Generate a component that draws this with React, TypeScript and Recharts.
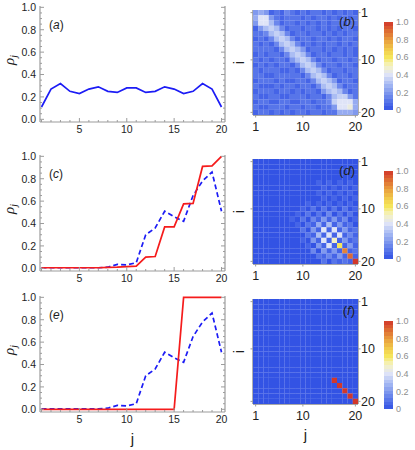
import React from "react";
import { LineChart, Line, XAxis, YAxis, ScatterChart, Scatter, BarChart, Bar } from "recharts";

// site index j
const sites = [1, 2, 3, 4, 5, 6, 7, 8, 9, 10, 11, 12, 13, 14, 15, 16, 17, 18, 19, 20];

// densities
const rhoA = [0.11, 0.27, 0.32, 0.25, 0.23, 0.27, 0.29, 0.25, 0.24, 0.28, 0.28, 0.24, 0.25, 0.29, 0.27, 0.23, 0.25, 0.32, 0.27, 0.11];
const rhoCRed = [0.005, 0.005, 0.005, 0.005, 0.005, 0.005, 0.005, 0.008, 0.01, 0.015, 0.02, 0.1, 0.105, 0.37, 0.37, 0.575, 0.58, 0.91, 0.915, 1.0];
const rhoBlueDashed = [0.005, 0.005, 0.005, 0.005, 0.005, 0.005, 0.005, 0.01, 0.035, 0.03, 0.05, 0.3, 0.36, 0.51, 0.46, 0.42, 0.65, 0.78, 0.86, 0.51];
const rhoERed = [0, 0, 0, 0, 0, 0, 0, 0, 0, 0, 0, 0, 0, 0, 0, 1, 1, 1, 1, 1];

const lineXTicks = [1, 2, 3, 4, 5, 6, 7, 8, 9, 10, 11, 12, 13, 14, 15, 16, 17, 18, 19, 20];
const lineXMajor = [5, 10, 15, 20];
const lineYTicks = [0, 0.05, 0.1, 0.15, 0.2, 0.25, 0.3, 0.35, 0.4, 0.45, 0.5, 0.55, 0.6, 0.65, 0.7, 0.75, 0.8, 0.85, 0.9, 0.95, 1];
const lineYMajor = [0, 0.2, 0.4, 0.6, 0.8, 1];

const heatTicks = [1, 10, 20];
const colorbarTicks = [0, 0.2, 0.4, 0.6, 0.8, 1];

// correlation matrices, one char per cell: index in LEVELS / 20
const LEVELS = "0123456789abcdefghijk";
const corrB = [
  "45412132121221212121",
  "58842122212122121212",
  "48863122121212122122",
  "14676312212212121221",
  "22367631221221212122",
  "12136763122122121221",
  "21213676312121221212",
  "22221367641221212121",
  "12122136763122122121",
  "21212214676312212212",
  "12121221367631221221",
  "21222112136763122122",
  "22112222213676312212",
  "12221211221367641221",
  "21112122122136763122",
  "12221221212214676312",
  "21122112221221367742",
  "12211221122122378885",
  "21122212212212248895",
  "12212121221221225554",
];
const corrD = [
  "00000000000000000000",
  "00000000000000000000",
  "00000000000000000000",
  "00000000000000000000",
  "00000000000010101010",
  "00000000000001010101",
  "00000000000010101010",
  "00000000000001010101",
  "00000000001010101010",
  "00000000010202020201",
  "00000000102020302020",
  "00000001020314141301",
  "00000000102151614120",
  "00000000020418181412",
  "00000000002161818131",
  "000000000104181a1412",
  "0000000000104181c141",
  "00000000000304141h12",
  "000000000000213141i1",
  "0000000000000202121k",
];
const corrF = [
  "00000000000000000000",
  "00000000000000000000",
  "00000000000000000000",
  "00000000000000000000",
  "00000000000000000000",
  "00000000000000000000",
  "00000000000000000000",
  "00000000000000000000",
  "00000000000000000000",
  "00000000000000000000",
  "00000000000000000000",
  "00000000000000000000",
  "00000000000000000000",
  "00000000000000000000",
  "00000000000000000000",
  "000000000000000k0000",
  "0000000000000000k000",
  "00000000000000000k00",
  "000000000000000000k0",
  "0000000000000000000k",
];

const SANS = "'Liberation Sans', Arial, sans-serif";
const FRAME = "#9c9c9c";
const X_DOMAIN: [number, number] = [0.84, 20.37];
const Y_DOMAIN: [number, number] = [-0.024, 1.012];
const HEAT_PLOT = 105;
const HEAT_CELL = HEAT_PLOT / 20;

const HEAT_STOPS: [number, string][] = [
  [0, "#3353e4"],
  [0.1, "#5775e9"],
  [0.2, "#8099ee"],
  [0.3, "#abbdf3"],
  [0.4, "#dfe4f7"],
  [0.5, "#f5f2c4"],
  [0.6, "#f5e65c"],
  [0.7, "#f0c648"],
  [0.8, "#e89a3c"],
  [0.9, "#dd6a32"],
  [1, "#d1382a"],
];

function hexRgb(h: string) {
  return [1, 3, 5].map((i) => parseInt(h.slice(i, i + 2), 16));
}

function heatColor(v: number) {
  const t = Math.max(0, Math.min(1, v));
  for (let k = 1; k < HEAT_STOPS.length; k++) {
    const [p1, c1] = HEAT_STOPS[k];
    if (t <= p1) {
      const [p0, c0] = HEAT_STOPS[k - 1];
      const f = (t - p0) / (p1 - p0);
      const a = hexRgb(c0);
      const b = hexRgb(c1);
      const m = a.map((x, i) => Math.round(x + (b[i] - x) * f));
      return `rgb(${m[0]},${m[1]},${m[2]})`;
    }
  }
  return HEAT_STOPS[HEAT_STOPS.length - 1][1];
}

function toCells(rows: string[]) {
  const out: { row: number; col: number; v: number }[] = [];
  rows.forEach((r, i) => {
    for (let c = 0; c < r.length; c++) out.push({ row: i + 1, col: c + 1, v: LEVELS.indexOf(r[c]) / 20 });
  });
  return out;
}

const near = (v: number, list: number[]) => list.some((m) => Math.abs(m - v) < 1e-6);

type Side = "bottom" | "top" | "left" | "right";
type TickOpts = {
  side: Side;
  major: number[];
  inward: boolean;
  majorLen: number;
  minorLen: number;
  label: boolean;
  fmt?: (v: number) => string;
  fontSize?: number;
  gap?: number;
};

function makeTick(o: TickOpts) {
  return (p: any) => {
    const x = p.x as number;
    const y = p.y as number;
    const v = p.payload.value as number;
    const isMajor = near(v, o.major);
    const len = isMajor ? o.majorLen : o.minorLen;
    const s = o.inward ? 1 : -1;
    let x2 = x;
    let y2 = y;
    if (o.side === "bottom") y2 = y - s * len;
    if (o.side === "top") y2 = y + s * len;
    if (o.side === "left") x2 = x + s * len;
    if (o.side === "right") x2 = x - s * len;
    let txt = null;
    if (o.label && isMajor) {
      const fs = o.fontSize || 10;
      const gap = o.gap || 4;
      const str = o.fmt ? o.fmt(v) : String(v);
      const st = { fontSize: fs, fill: "#1e1e1e", fontFamily: SANS };
      if (o.side === "bottom")
        txt = <text x={x} y={y + gap} textAnchor="middle" {...st}>{str}</text>;
      if (o.side === "left")
        txt = <text x={x - gap} y={y + fs * 0.36} textAnchor="end" {...st}>{str}</text>;
      if (o.side === "right")
        txt = <text x={x + gap} y={y + fs * 0.36} textAnchor="start" {...st}>{str}</text>;
    }
    return (
      <g>
        <line x1={x} y1={y} x2={x2} y2={y2} stroke={FRAME} strokeWidth={1} />
        {txt}
      </g>
    );
  };
}

function tagText(x: number, y: number, letter: string, anchor: "start" | "end", fs: number) {
  return (
    <text x={x} y={y} textAnchor={anchor} fontFamily={SANS} fontSize={fs} fill="#1e1e1e">
      (<tspan fontStyle="italic">{letter}</tspan>)
    </text>
  );
}

// left axis label: rotated rho_j plus the panel tag inside the plot
const rhoLabel = (tag: string) => (p: any) => {
  const vb = p.viewBox;
  const x = vb.x + 14;
  const y = vb.y + vb.height / 2 - 4;
  return (
    <g>
      <text x={x} y={y} transform={`rotate(-90 ${x} ${y})`} textAnchor="middle" fontFamily="'Liberation Serif', serif" fontStyle="italic" fontSize={15} fill="#1e1e1e">
        ρ<tspan dy={3} fontSize={10}>j</tspan>
      </text>
      {tagText(vb.x + vb.width + 9, vb.y + 22.5, tag, "start", 12)}
    </g>
  );
};

type Series = { key: string; color: string; dash?: string };

function RhoPanel({ top, tag, data, series, showJ }: { top: number; tag: string; data: any[]; series: Series[]; showJ?: boolean }) {
  const bottomH = showJ ? 40 : 20;
  const h = 6 + 116 + bottomH;
  const axisLine = { stroke: FRAME, strokeWidth: 1.2 };
  return (
    <div style={{ position: "absolute", left: 0, top }}>
      <LineChart width={240} height={h} data={data} margin={{ top: 6, right: 0, bottom: 0, left: 0 }}>
        <XAxis
          xAxisId="b"
          type="number"
          dataKey="j"
          domain={X_DOMAIN}
          allowDataOverflow
          ticks={lineXTicks}
          interval={0}
          tickSize={0}
          tickMargin={0}
          tickLine={false}
          height={bottomH}
          axisLine={axisLine}
          tick={makeTick({ side: "bottom", major: lineXMajor, inward: true, majorLen: 4, minorLen: 2, label: true, fontSize: 10.5, gap: 11 })}
          label={showJ ? { value: "j", position: "insideBottom", offset: 8, style: { fontFamily: SANS, fontSize: 15, fill: "#1e1e1e" } } : undefined}
        />
        <XAxis
          xAxisId="t"
          orientation="top"
          type="number"
          domain={X_DOMAIN}
          allowDataOverflow
          ticks={lineXTicks}
          interval={0}
          tickSize={0}
          tickMargin={0}
          tickLine={false}
          height={0}
          axisLine={axisLine}
          tick={makeTick({ side: "top", major: lineXMajor, inward: true, majorLen: 4, minorLen: 2, label: false })}
        />
        <YAxis
          yAxisId="l"
          type="number"
          domain={Y_DOMAIN}
          allowDataOverflow
          ticks={lineYTicks}
          interval={0}
          tickSize={0}
          tickMargin={0}
          tickLine={false}
          width={40}
          axisLine={axisLine}
          tick={makeTick({ side: "left", major: lineYMajor, inward: true, majorLen: 4, minorLen: 2, label: true, fontSize: 10.5, gap: 4, fmt: (v) => v.toFixed(1) })}
          label={rhoLabel(tag)}
        />
        <YAxis
          yAxisId="r"
          orientation="right"
          type="number"
          domain={Y_DOMAIN}
          allowDataOverflow
          ticks={lineYTicks}
          interval={0}
          tickSize={0}
          tickMargin={0}
          tickLine={false}
          width={15}
          axisLine={axisLine}
          tick={makeTick({ side: "right", major: lineYMajor, inward: true, majorLen: 4, minorLen: 2, label: false })}
        />
        {series.map((s) => (
          <Line
            key={s.key}
            xAxisId="b"
            yAxisId="l"
            type="linear"
            dataKey={s.key}
            stroke={s.color}
            strokeWidth={1.7}
            strokeDasharray={s.dash}
            dot={false}
            isAnimationActive={false}
          />
        ))}
      </LineChart>
    </div>
  );
}

const cellShape = (p: any) => (
  <rect
    x={p.cx - HEAT_CELL / 2}
    y={p.cy - HEAT_CELL / 2}
    width={HEAT_CELL + 0.12}
    height={HEAT_CELL + 0.12}
    fill={heatColor(p.payload.v)}
  />
);

const iLabel = (p: any) => {
  const vb = p.viewBox;
  const x = vb.x + 13.5;
  const y = vb.y + vb.height / 2;
  return (
    <text x={x} y={y} transform={`rotate(-90 ${x} ${y})`} textAnchor="middle" fontFamily={SANS} fontSize={15} fill="#1e1e1e">
      i
    </text>
  );
};

function HeatPanel({ top, tag, rows, showJ }: { top: number; tag: string; rows: string[]; showJ?: boolean }) {
  const cells = toCells(rows);
  const bottomH = showJ ? 42 : 25;
  const axisLine = { stroke: "#a8a8a8", strokeWidth: 1.8 };
  const dom: [number, number] = [0.5, 20.5];
  return (
    <div style={{ position: "absolute", left: 230, top }}>
      <ScatterChart width={23 + HEAT_PLOT + 30} height={10 + HEAT_PLOT + bottomH} margin={{ top: 10, right: 0, bottom: 0, left: 0 }}>
        <XAxis
          xAxisId="b"
          type="number"
          dataKey="col"
          domain={dom}
          allowDataOverflow
          ticks={heatTicks}
          interval={0}
          tickSize={0}
          tickMargin={0}
          tickLine={false}
          height={bottomH}
          axisLine={axisLine}
          tick={makeTick({ side: "bottom", major: heatTicks, inward: false, majorLen: 2.5, minorLen: 2.5, label: true, fontSize: 12.5, gap: 16 })}
          label={showJ ? { value: "j", position: "insideBottom", offset: 6, style: { fontFamily: SANS, fontSize: 15, fill: "#1e1e1e" } } : undefined}
        />
        <XAxis
          xAxisId="t"
          orientation="top"
          type="number"
          domain={dom}
          allowDataOverflow
          ticks={heatTicks}
          interval={0}
          tickSize={0}
          tickMargin={0}
          tickLine={false}
          height={0}
          axisLine={axisLine}
          tick={makeTick({ side: "top", major: heatTicks, inward: false, majorLen: 2.5, minorLen: 2.5, label: false })}
        />
        <YAxis
          yAxisId="l"
          type="number"
          domain={dom}
          reversed
          allowDataOverflow
          ticks={heatTicks}
          interval={0}
          tickSize={0}
          tickMargin={0}
          tickLine={false}
          width={23}
          axisLine={axisLine}
          tick={makeTick({ side: "left", major: heatTicks, inward: false, majorLen: 2.5, minorLen: 2.5, label: false })}
          label={iLabel}
        />
        <YAxis
          yAxisId="r"
          orientation="right"
          type="number"
          dataKey="row"
          domain={dom}
          reversed
          allowDataOverflow
          ticks={heatTicks}
          interval={0}
          tickSize={0}
          tickMargin={0}
          tickLine={false}
          width={30}
          axisLine={axisLine}
          tick={makeTick({ side: "right", major: heatTicks, inward: false, majorLen: 2.5, minorLen: 2.5, label: true, fontSize: 12.5, gap: 3 })}
        />
        <Scatter data={cells} xAxisId="b" yAxisId="r" shape={cellShape} isAnimationActive={false} />
      </ScatterChart>
      {/* panel tag drawn above the cells */}
      <div
        style={{
          position: "absolute",
          left: 23 + HEAT_PLOT - 60,
          width: 57,
          top: 4.5 + 10,
          textAlign: "right",
          fontFamily: SANS,
          fontSize: 13,
          lineHeight: "13px",
          color: "#1e1e1e",
          pointerEvents: "none",
        }}
      >
        (<i>{tag}</i>)
      </div>
    </div>
  );
}

const colorbarData = [{ name: "scale", top: 1 }];

function ColorBar({ top, id }: { top: number; id: string }) {
  const bands = 24;
  const stops: React.ReactNode[] = [];
  for (let k = 0; k < bands; k++) {
    const c = heatColor((k + 0.5) / bands);
    stops.push(<stop key={`a${k}`} offset={k / bands} stopColor={c} />);
    stops.push(<stop key={`b${k}`} offset={(k + 1) / bands} stopColor={c} />);
  }
  return (
    <div style={{ position: "absolute", left: 384, top }}>
      <BarChart width={34} height={100} data={colorbarData} margin={{ top: 6, right: 0, bottom: 6, left: 0 }} barCategoryGap={0}>
        <defs>
          <linearGradient id={id} x1="0" y1="1" x2="0" y2="0">
            {stops}
          </linearGradient>
        </defs>
        <XAxis dataKey="name" hide />
        <YAxis
          orientation="right"
          type="number"
          domain={[0, 1]}
          ticks={colorbarTicks}
          interval={0}
          width={25}
          axisLine={false}
          tickLine={false}
          tickSize={0}
          tickMargin={3}
          tick={{ fill: "#8e8e8e", fontSize: 9, fontFamily: SANS }}
          tickFormatter={(v: number) => (v === 0 ? "0" : v.toFixed(1))}
        />
        <Bar dataKey="top" fill={`url(#${id})`} isAnimationActive={false} />
      </BarChart>
    </div>
  );
}

const panelA = sites.map((j, k) => ({ j, blue: rhoA[k] }));
const panelC = sites.map((j, k) => ({ j, blue: rhoBlueDashed[k], red: rhoCRed[k] }));
const panelE = sites.map((j, k) => ({ j, blue: rhoBlueDashed[k], red: rhoERed[k] }));

const BLUE = "#1c1cf5";
const RED = "#f51c1c";

export default function App() {
  return (
    <div style={{ position: "absolute", left: 0, top: 0, width: 415, height: 450, background: "#fff", overflow: "hidden" }}>
      <RhoPanel top={0} tag="a" data={panelA} series={[{ key: "blue", color: BLUE }]} />
      <RhoPanel
        top={149}
        tag="c"
        data={panelC}
        series={[
          { key: "blue", color: BLUE, dash: "5 3" },
          { key: "red", color: RED },
        ]}
      />
      <RhoPanel
        top={290}
        tag="e"
        data={panelE}
        showJ
        series={[
          { key: "blue", color: BLUE, dash: "5 3" },
          { key: "red", color: RED },
        ]}
      />
      <HeatPanel top={0} tag="b" rows={corrB} />
      <HeatPanel top={149} tag="d" rows={corrD} />
      <HeatPanel top={289} tag="f" rows={corrF} showJ />
      <ColorBar top={16} id="cb-b" />
      <ColorBar top={165} id="cb-d" />
      <ColorBar top={315} id="cb-f" />
    </div>
  );
}
